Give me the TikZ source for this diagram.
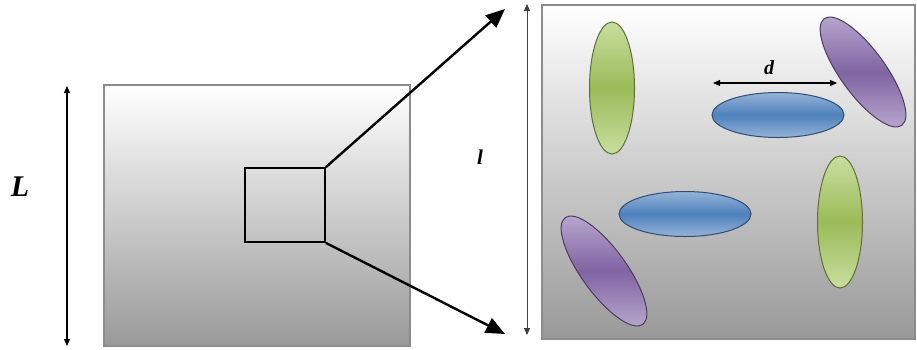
\documentclass[tikz,border=0pt]{standalone}
\usepackage{fontspec}
\setmainfont{Liberation Serif}
\usetikzlibrary{arrows.meta,shapes.geometric}

\definecolor{grn}{HTML}{9BBB59}
\definecolor{grnl}{HTML}{C9DE9F}
\definecolor{blu}{HTML}{4F81BD}
\definecolor{blul}{HTML}{95B3D7}
\definecolor{pur}{HTML}{8064A2}
\definecolor{purl}{HTML}{BCABD1}

\begin{document}
\begin{tikzpicture}[x=1pt, y=-1pt,
    box/.style = {draw=gray!90, line width=1.3pt, top color=white, bottom color=black!40, inner sep=0pt},
    grain/.style = {ellipse, inner sep=0pt, minimum width=132pt, minimum height=45pt, line width=1pt},
    green/.style = {grain, draw=grn!60!black, top color=grnl, bottom color=grnl, middle color=grn},
    blue/.style = {grain, draw=blu!60!black, top color=blul, bottom color=blul, middle color=blu},
    purple/.style = {grain, draw=pur!60!black, top color=purl, bottom color=purl, middle color=pur},
    zoomarrow/.style = {line width=2.4pt, -{Triangle[length=19pt,width=16pt]}},
    dimarrow/.style = {line width=1.2pt, {Triangle[length=7pt,width=6pt]}-{Triangle[length=7pt,width=6pt]}},
    lbl/.style = {font=\bfseries\itshape}]
    \useasboundingbox (0,0) rectangle (917,349);

    % sample and the zoomed window
    \node[box, minimum width=306pt, minimum height=261pt] (sample) at (257,215.5) {};
    \node[box, minimum width=373pt, minimum height=334pt] (window) at (728.5,172) {};
    \node[draw, line width=1.8pt, minimum width=80pt, minimum height=74pt, inner sep=0pt] (zoom) at (285,205) {};

    % grains
    \node[green, rotate=90] (g1) at (612,88) {};
    \node[green, rotate=90] (g2) at (840,222) {};
    \node[blue] (b1) at (778,115) {};
    \node[blue] (b2) at (685,214) {};
    \node[purple, rotate=-54] (p1) at (863,72) {};
    \node[purple, rotate=-54] (p2) at (604,271) {};

    % zoom arrows
    \coordinate (top) at (505,9);
    \coordinate (bot) at (505,334);
    \draw[zoomarrow] (zoom.north east) -- (top);
    \draw[zoomarrow] (zoom.south east) -- (bot);

    % dimensions
    \coordinate (Ltop) at (67,86);
    \coordinate (Lbot) at (67,346);
    \draw[dimarrow] (Ltop) -- (Lbot);
    \node[lbl, font=\fontsize{30}{30}\selectfont\bfseries\itshape] (Llab) at (20,187) {L};

    \coordinate (ltop) at (527,4);
    \coordinate (lbot) at (527,335);
    \draw[dimarrow, line width=0.9pt, draw=black!75] (ltop) -- (lbot);
    \node[lbl, font=\fontsize{21}{21}\selectfont\bfseries\itshape] (llab) at (480,157) {l};

    \coordinate (dl) at (713,83);
    \coordinate (dr) at (837,83);
    \draw[dimarrow] (dl) -- (dr);
    \node[lbl, font=\fontsize{20}{20}\selectfont\bfseries\itshape] (dlab) at (769,68) {d};
\end{tikzpicture}
\end{document}
